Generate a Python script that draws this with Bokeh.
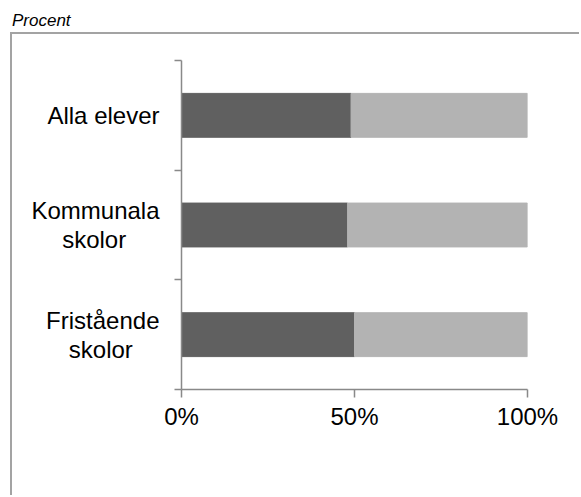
from bokeh.plotting import figure
from bokeh.models import (Range1d, LinearAxis, FixedTicker,
                          PrintfTickFormatter, Legend, LegendItem, ColumnDataSource, Div)
from bokeh.layouts import column
from bokeh.embed import file_html
from bokeh.resources import INLINE

categories = ["Alla elever", "Kommunala\nskolor", "Fristående\nskolor"]
flickor = [49, 48, 50]
pojkar = [51, 52, 50]
series = ["Flickor", "Pojkar"]
colors = ["#606060", "#b3b3b3"]
x_ticks = [0, 50, 100]
y_title = "Procent"

FONT = "Liberation Sans"
AXIS_COLOR = "#898989"
LINE_OFFSET = 0.132   # half the spacing of two label lines, in band units

# approximate advance widths (em) of Liberation Sans, to centre the 2nd line under the 1st
W = {"A": .667, "l": .222, "a": .556, " ": .278, "e": .556, "v": .5, "r": .333,
     "K": .667, "o": .556, "m": .833, "u": .556, "n": .556, "s": .5, "k": .5,
     "F": .611, "i": .222, "t": .278, "å": .556, "d": .556}


def width(t):
    return sum(W.get(ch, .556) for ch in t)


n = len(categories)
# category i (from the top) sits in the band [n-1-i, n-i]; its centre is n-i-0.5
ypos = [n - i - 0.5 for i in range(n)]
source = ColumnDataSource(dict(y=ypos, Flickor=flickor, Pojkar=pojkar))

# label ticks: one tick per text line
label_ticks, label_texts = [], []
for yc, cat in zip(ypos, categories):
    lines = cat.split("\n")
    if len(lines) == 1:
        label_ticks.append(yc)
        label_texts.append(lines[0])
    else:
        pad = round((width(lines[0]) - width(lines[1])) / 2 / 0.278)
        label_ticks += [yc + LINE_OFFSET, yc - LINE_OFFSET]
        label_texts += [lines[0], lines[1] + "\u00a0" * pad]

p = figure(y_range=Range1d(0, n), x_range=Range1d(0, 100),
           width=569, height=463,
           y_axis_location=None,
           output_backend="svg", toolbar_location=None,
           min_border_left=169, min_border_right=54,
           min_border_top=26, min_border_bottom=108)
p.outline_line_color = None
p.grid.visible = False

renderers = p.hbar_stack(series, y="y", height=0.4, color=colors,
                         line_color=colors, source=source)

# x axis
xa = p.xaxis[0]
xa.ticker = FixedTicker(ticks=x_ticks)
xa.formatter = PrintfTickFormatter(format="%d%%")
xa.major_tick_out = 8
xa.major_tick_in = 0
xa.minor_tick_line_color = None
xa.axis_line_color = AXIS_COLOR
xa.axis_line_width = 1.5
xa.major_tick_line_color = AXIS_COLOR
xa.major_tick_line_width = 1.5
xa.major_label_text_font = FONT
xa.major_label_text_font_size = "24px"
xa.major_label_text_color = "#000000"
xa.major_label_standoff = 5

# y axis: tick marks at category boundaries (its tiny labels are invisible)
edge_axis = LinearAxis(ticker=FixedTicker(ticks=list(range(n + 1))),
                       major_label_text_font_size="1px", major_label_standoff=0,
                       major_label_text_alpha=0,
                       major_tick_out=7, major_tick_in=0,
                       minor_tick_line_color=None,
                       axis_line_color=AXIS_COLOR, axis_line_width=1.5,
                       major_tick_line_color=AXIS_COLOR, major_tick_line_width=1.5)
p.add_layout(edge_axis, "left")

# y axis: category names at band centres (one tick per text line)
cat_axis = LinearAxis(ticker=FixedTicker(ticks=label_ticks),
                      major_label_overrides=dict(zip(label_ticks, label_texts)),
                      axis_line_color=None, major_tick_line_color=None,
                      minor_tick_line_color=None,
                      major_tick_out=0, major_tick_in=0,
                      major_label_text_font=FONT,
                      major_label_text_font_size="24px",
                      major_label_text_color="#000000",
                      major_label_standoff=15)
p.add_layout(cat_axis, "left")

legend = Legend(items=[LegendItem(label=s, renderers=[r]) for s, r in zip(series, renderers)],
                orientation="horizontal", location=(21, -92),
                glyph_width=14, glyph_height=14, label_standoff=4, spacing=25,
                padding=1, margin=0, border_line_color=None,
                background_fill_alpha=0,
                label_text_font=FONT, label_text_font_size="23px",
                label_text_color="#000000")
p.add_layout(legend, "center")

p.styles = {"border-left": "2px solid #a3a3a3", "border-top": "2px solid #a3a3a3",
            "margin-left": "10px"}

title = Div(text=y_title, width=200, height=32, margin=0,
            styles={"font-style": "italic", "font-size": "17px",
                    "font-family": FONT, "padding-left": "12px",
                    "padding-top": "9px", "color": "#000000"})

layout = column(title, p, spacing=0)

open("out.html", "w").write(file_html(layout, INLINE))
